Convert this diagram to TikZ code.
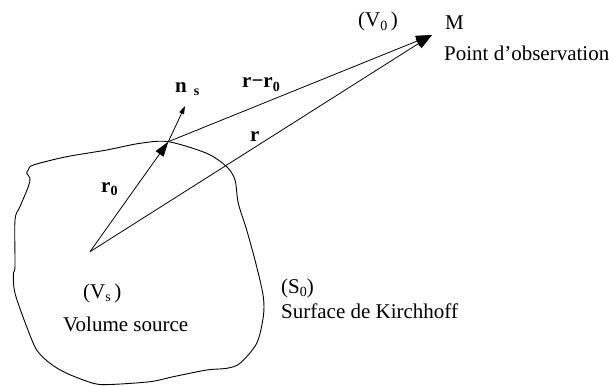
\documentclass[tikz,border=0pt]{standalone}
\usepackage{fontspec}
\setmainfont{Liberation Serif}
\usetikzlibrary{arrows.meta}
\newcommand\lowsub[1]{\raisebox{-0.35ex}{\fontsize{14}{14}\selectfont #1}}
\begin{document}
\begin{tikzpicture}[x=1pt,y=-1pt,
  lbl/.style={anchor=base west,inner sep=0pt,font=\fontsize{21}{25}\selectfont},
  vec/.style={line width=0.8pt},
  bigtip/.style={-{Triangle[length=15pt,width=9.5pt]}},
  mtip/.style={-{Triangle[length=16pt,width=11pt]}},
  smalltip/.style={-{Triangle[length=8pt,width=5pt]}},
  outline/.style={line width=0.9pt}]
\useasboundingbox (0,0) rectangle (609,385);

% Kirchhoff surface
\draw[outline] plot[smooth cycle, tension=0.5] coordinates {
 (28.3,170) (33.3,165) (66.7,156.7) (106.7,150) (140,143.3) (168.3,141.7)
 (206.7,153.3) (226.7,166.7) (235,180) (238.3,203.3) (246.7,230)
 (256.7,266.7) (263.3,296.7) (263.3,316.7) (256.7,343.3) (240,363.3)
 (226.7,368.3) (206.7,370) (173.3,376.7) (150,381.7) (110,384.5)
 (93.3,383.3) (66.7,373.3) (50,363.3) (36.7,350) (26.7,326.7)
 (15,293.3) (13.3,273.3) (15,266.7) (15,220) (20,206.7) (28.3,186.7)
 (30,178.3) (26.7,173.3)};

% points
\coordinate (O) at (90,251.7);
\coordinate (P) at (168.3,141.7);
\coordinate (M) at (432,35);
\coordinate (N) at (185,106);

% vectors
\draw[vec,bigtip] (O) -- (P);
\draw[vec,mtip] (O) -- (M);
\draw[vec,mtip] (P) -- (M);
\draw[vec,smalltip] (P) -- (N);

% labels
\node[lbl] (v0) at (358,27) {(V\lowsub{0}\,)};
\node[lbl] (m) at (445,30) {M};
\node[lbl] (obs) at (444,61) {Point d’observation};
\node[lbl] (ns) at (175,92.5) {\textbf{n}\,\,\lowsub{\textbf{s}}};
\node[lbl] (rr0) at (242,88) {\textbf{r−r}\lowsub{\textbf{0}}};
\node[lbl] (r) at (250,141.5) {\textbf{r}};
\node[lbl] (r0) at (101,192.5) {\textbf{r}\lowsub{\textbf{0}}};
\node[lbl] (vs) at (83,298) {(V\lowsub{s}\,)};
\node[lbl] (vol) at (63,331) {Volume source};
\node[lbl] (s0) at (281,293) {(S\lowsub{0})};
\node[lbl] (surf) at (281,318) {Surface de Kirchhoff};
\end{tikzpicture}
\end{document}
